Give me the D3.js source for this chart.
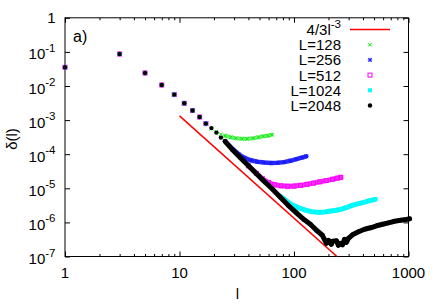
<!DOCTYPE html>
<html>
<head>
<meta charset="utf-8">
<script src="https://cdn.jsdelivr.net/npm/d3@7"></script>
<style>
  body { margin: 0; background: #fff; }
  text { font-family: "Liberation Sans", Arial, Helvetica, sans-serif; fill: #000; }
</style>
</head>
<body>
<div id="chart"></div>
<script>
// ---- data ----
// small l: all five system sizes sit on top of each other
const lCommon = [1, 3, 5, 7, 9, 11, 13, 15, 17];
const dCommon = [0.0353, 0.0868, 0.0241, 0.0107, 0.0056, 0.00311, 0.00191, 0.00123, 0.00079];

// after that each L bends away from the l^-3 decay
const l128 = [19, 21, 23, 25, 28, 31, 35, 39, 44, 49, 54, 59, 64];
const d128 = [5.56e-4, 4.54e-4, 3.84e-4, 3.47e-4, 3.13e-4, 2.93e-4, 2.83e-4, 2.83e-4, 2.93e-4, 3.13e-4, 3.35e-4, 3.47e-4, 3.71e-4];

const l256 = [25, 29, 33, 37, 42, 48, 55, 63, 72, 82, 93, 105, 117, 128];
const d256 = [2.39e-4, 1.44e-4, 9.93e-5, 7.84e-5, 6.62e-5, 5.98e-5, 5.67e-5, 5.52e-5, 5.60e-5, 5.86e-5, 6.40e-5, 7.18e-5, 7.94e-5, 8.68e-5];

const l512 = [40, 47, 53, 60, 68, 77, 88, 100, 114, 130, 148, 168, 191, 217, 240, 256];
const d512 = [4.57e-5, 2.75e-5, 1.90e-5, 1.47e-5, 1.27e-5, 1.18e-5, 1.15e-5, 1.16e-5, 1.22e-5, 1.31e-5, 1.42e-5, 1.55e-5, 1.68e-5, 1.84e-5, 1.99e-5, 2.10e-5];

const l1024 = [76, 89, 100, 112, 126, 142, 160, 180, 203, 228, 257, 290, 326, 367, 413, 460, 512];
const d1024 = [5.82e-6, 3.88e-6, 3.07e-6, 2.63e-6, 2.29e-6, 2.07e-6, 1.98e-6, 2.00e-6, 2.12e-6, 2.24e-6, 2.42e-6, 2.77e-6, 3.21e-6, 3.56e-6, 3.94e-6, 4.36e-6, 4.75e-6];

const l2048 = [19, 21, 23, 25, 29, 34, 40, 47, 55, 65, 76, 89, 105, 123, 139, 157, 177, 192, 200, 212, 217, 235, 244, 255, 265, 276, 287, 299, 324, 366, 413, 466, 526, 593, 670, 755, 853, 925, 1023];
const d2048 = [5.82e-4, 4.30e-4, 3.07e-4, 2.39e-4, 1.36e-4, 7.84e-5, 4.57e-5, 2.66e-5, 1.60e-5, 9.35e-6, 5.45e-6, 3.17e-6, 1.91e-6, 1.19e-6, 8.80e-7, 5.87e-7, 4.19e-7, 2.44e-7, 2.99e-7, 2.28e-7, 2.79e-7, 2.89e-7, 2.13e-7, 2.44e-7, 2.20e-7, 3.19e-7, 2.61e-7, 3.42e-7, 4.33e-7, 5.30e-7, 6.28e-7, 6.95e-7, 7.95e-7, 8.80e-7, 9.73e-7, 1.08e-6, 1.15e-6, 1.19e-6, 1.28e-6];

// the 4/3 l^-3 guide line, start and where it leaves the frame
const lGuide = [10, 237];
const dGuide = [1.33e-3, 1e-7];

const xTicks = [1, 10, 100, 1000];
const xTickLabels = ["1", "10", "100", "1000"];
const yExps = [0, -1, -2, -3, -4, -5, -6, -7];

// points closer than this are so dense they merge into a band
const BAND_FROM = 24;

// ---- svg + scales ----
const W = 436, H = 305;
const FS = 15, SUP = 11.5;
const svg = d3.select("#chart").append("svg")
    .attr("width", W)
    .attr("height", H);

const x = d3.scaleLog().domain([1, 1000]).range([65, 408.5]);
const y = d3.scaleLog().domain([1e-7, 1]).range([256.5, 17.8]);

// minor ticks 2..9 in every decade
const xMinor = [];
[1, 10, 100].forEach(function (dec) {
    for (let k = 2; k <= 9; k++) xMinor.push(dec * k);
});

function tickAxis(axis, vals, size) {
    return axis.tickValues(vals).tickSize(size).tickFormat("");
}

const axes = svg.append("g").attr("class", "axes");
axes.append("g").attr("transform", "translate(0,256.5)")
    .call(tickAxis(d3.axisBottom(x), xTicks, -5));
axes.append("g").attr("transform", "translate(0,256.5)")
    .call(tickAxis(d3.axisBottom(x), xMinor, -2.5));
axes.append("g").attr("transform", "translate(0,17.8)")
    .call(tickAxis(d3.axisTop(x), xTicks, -5));
axes.append("g").attr("transform", "translate(0,17.8)")
    .call(tickAxis(d3.axisTop(x), xMinor, -2.5));
const yVals = yExps.map(function (e) { return Math.pow(10, e); });
axes.append("g").attr("transform", "translate(65,0)")
    .call(tickAxis(d3.axisLeft(y), yVals, -5));
axes.append("g").attr("transform", "translate(408.5,0)")
    .call(tickAxis(d3.axisRight(y), yVals, -5));
axes.selectAll(".domain").remove();
axes.selectAll(".tick line").attr("stroke", "#000");

// frame
svg.append("rect")
    .attr("x", 65).attr("y", 17.8)
    .attr("width", 408.5 - 65).attr("height", 256.5 - 17.8)
    .attr("fill", "none")
    .attr("stroke", "#000")
    .attr("stroke-width", 1);

// tick labels
svg.selectAll(".xlab")
    .data(xTicks)
    .enter().append("text")
    .attr("class", "xlab")
    .attr("x", function (d) { return x(d); })
    .attr("y", 277.5)
    .attr("text-anchor", "middle")
    .attr("font-size", FS)
    .text(function (d, i) { return xTickLabels[i]; });

yExps.forEach(function (e) {
    const ty = y(Math.pow(10, e));
    if (e === 0) {
        svg.append("text")
            .attr("x", 55.5).attr("y", ty + 5.5)
            .attr("text-anchor", "end")
            .attr("font-size", FS)
            .text("1");
    } else {
        const t = svg.append("text")
            .attr("x", 55.5).attr("y", ty + 7.5)
            .attr("text-anchor", "end")
            .attr("font-size", FS);
        t.append("tspan").text("10");
        t.append("tspan").attr("dy", -7.5).attr("font-size", SUP).text(String(e));
    }
});

// axis titles and panel tag
svg.append("text")
    .attr("x", 237.5).attr("y", 299)
    .attr("text-anchor", "middle")
    .attr("font-size", FS)
    .text("l");
svg.append("text")
    .attr("transform", "translate(17,139) rotate(-90)")
    .attr("text-anchor", "middle")
    .attr("font-size", FS)
    .text("δ(l)");
svg.append("text")
    .attr("x", 73).attr("y", 41.5)
    .attr("font-size", 16)
    .text("a)");

// ---- markers ----
const markers = {
    cross: function (g, cx, cy, c) {
        const s = 1.8;
        g.append("path")
            .attr("d", `M${cx - s},${cy - s}L${cx + s},${cy + s}M${cx - s},${cy + s}L${cx + s},${cy - s}`)
            .attr("stroke", c).attr("stroke-width", 1).attr("fill", "none");
    },
    star: function (g, cx, cy, c) {
        const s = 1.8;
        g.append("path")
            .attr("d", `M${cx - s},${cy - s}L${cx + s},${cy + s}M${cx - s},${cy + s}L${cx + s},${cy - s}M${cx - s * 1.2},${cy}L${cx + s * 1.2},${cy}M${cx},${cy - s * 1.2}L${cx},${cy + s * 1.2}`)
            .attr("stroke", c).attr("stroke-width", 1).attr("fill", "none");
    },
    box: function (g, cx, cy, c) {
        g.append("rect")
            .attr("x", cx - 2).attr("y", cy - 2).attr("width", 4).attr("height", 4)
            .attr("stroke", c).attr("stroke-width", 1).attr("fill", "none");
    },
    fbox: function (g, cx, cy, c) {
        g.append("rect")
            .attr("x", cx - 2).attr("y", cy - 2).attr("width", 4).attr("height", 4)
            .attr("fill", c);
    },
    dot: function (g, cx, cy, c) {
        g.append("circle")
            .attr("cx", cx).attr("cy", cy).attr("r", 2.2)
            .attr("fill", c);
    }
};

const series = [
    { name: "L=128", l: l128, d: d128, color: "#00ee00", band: "#70f070", bw: 4, marker: "cross" },
    { name: "L=256", l: l256, d: d256, color: "#1a1aff", band: "#2a2af0", bw: 4.5, marker: "star" },
    { name: "L=512", l: l512, d: d512, color: "#ff00ff", band: "#f030f0", bw: 5, marker: "box" },
    { name: "L=1024", l: l1024, d: d1024, color: "#00ffff", band: "#00f4f4", bw: 5, marker: "fbox" },
    { name: "L=2048", l: l2048, d: d2048, color: "#000000", band: "#000000", bw: 5, marker: "dot" }
];

const plot = svg.append("g");

svg.append("clipPath").attr("id", "frame")
    .append("rect")
    .attr("x", 65).attr("y", 17.8)
    .attr("width", 408.5 - 65).attr("height", 256.5 - 17.8);

// guide line goes underneath the data
const line = d3.line()
    .x(function (p) { return x(p[0]); })
    .y(function (p) { return y(p[1]); });

plot.append("path")
    .datum(d3.zip(lGuide, dGuide))
    .attr("d", line)
    .attr("clip-path", "url(#frame)")
    .attr("stroke", "#ff0000")
    .attr("stroke-width", 1.5)
    .attr("fill", "none");

series.forEach(function (s) {
    const g = plot.append("g").attr("class", "series");
    const pts = d3.zip(lCommon, dCommon).concat(d3.zip(s.l, s.d));
    const dense = pts.filter(function (p) { return p[0] >= BAND_FROM; });
    g.append("path")
        .datum(dense)
        .attr("d", line)
        .attr("stroke", s.band)
        .attr("stroke-width", s.bw)
        .attr("stroke-linejoin", "round")
        .attr("stroke-linecap", "round")
        .attr("fill", "none");
    pts.forEach(function (p) {
        markers[s.marker](g, x(p[0]), y(p[1]), s.color);
    });
});

// ---- key ----
const key = svg.append("g");
const keyRows = [{ name: "4/3l", sup: "-3" }].concat(series);
keyRows.forEach(function (r, i) {
    const ky = 29.5 + i * 15.2;
    const t = key.append("text")
        .attr("x", 341).attr("y", ky + 5.5)
        .attr("text-anchor", "end")
        .attr("font-size", FS);
    if (i === 0) {
        t.append("tspan").text(r.name);
        t.append("tspan").attr("dy", -7.5).attr("font-size", SUP).text(r.sup);
        key.append("line")
            .attr("x1", 350).attr("x2", 390)
            .attr("y1", ky).attr("y2", ky)
            .attr("stroke", "#ff0000").attr("stroke-width", 1.5);
    } else {
        t.text(r.name);
        markers[r.marker](key, 370, ky, r.color);
    }
});
</script>
</body>
</html>
